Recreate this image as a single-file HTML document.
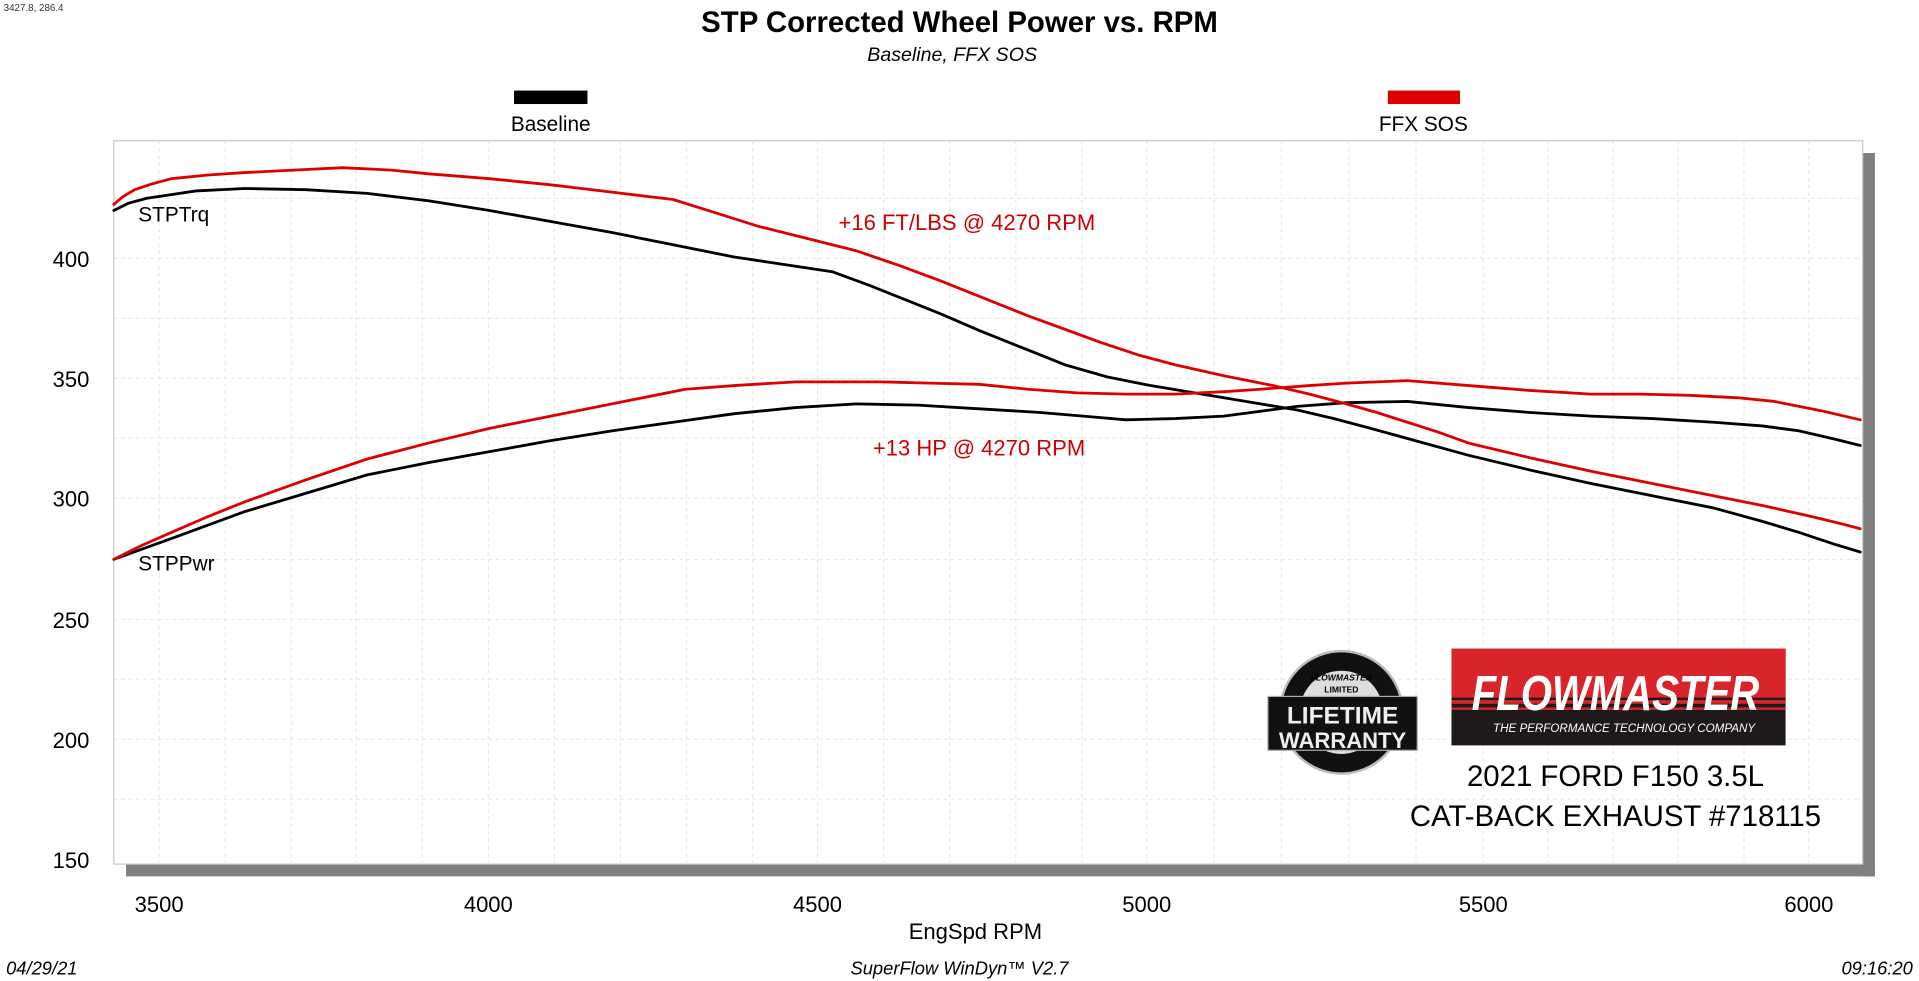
<!DOCTYPE html>
<html><head><meta charset="utf-8"><style>html,body{margin:0;padding:0;background:#fff;overflow:hidden}svg{display:block}text{font-family:"Liberation Sans",sans-serif}</style></head>
<body>
<svg width="1919" height="981" viewBox="0 0 1568 801.5" preserveAspectRatio="none" xmlns="http://www.w3.org/2000/svg">
<rect width="1568" height="802" fill="#fff"/>
<text x="3" y="9" font-size="8" fill="#333">3427.8, 286.4</text>
<text x="784" y="26" font-size="24" font-weight="bold" text-anchor="middle">STP Corrected Wheel Power vs. RPM</text>
<text x="778" y="50" font-size="16" font-style="italic" text-anchor="middle">Baseline, FFX SOS</text>
<rect x="420" y="74" width="60" height="11" fill="#000"/>
<text x="450" y="107" font-size="17" text-anchor="middle">Baseline</text>
<rect x="1134" y="74" width="59" height="11" fill="#d00"/>
<text x="1163" y="107" font-size="17" text-anchor="middle">FFX SOS</text>
<rect x="1522" y="125" width="10" height="591" fill="#808080"/>
<rect x="103" y="706" width="1429" height="10" fill="#808080"/>
<rect x="93" y="115" width="1429" height="591" fill="#fff" stroke="#c8c8c8" stroke-width="1"/>
<g stroke="#e2e2e2" stroke-width="0.8" stroke-dasharray="3,3">
<line x1="130" y1="115" x2="130" y2="706"/><line x1="184" y1="115" x2="184" y2="706"/><line x1="238" y1="115" x2="238" y2="706"/><line x1="291" y1="115" x2="291" y2="706"/><line x1="345" y1="115" x2="345" y2="706"/><line x1="399" y1="115" x2="399" y2="706"/><line x1="453" y1="115" x2="453" y2="706"/><line x1="507" y1="115" x2="507" y2="706"/><line x1="561" y1="115" x2="561" y2="706"/><line x1="615" y1="115" x2="615" y2="706"/><line x1="668" y1="115" x2="668" y2="706"/><line x1="722" y1="115" x2="722" y2="706"/><line x1="776" y1="115" x2="776" y2="706"/><line x1="830" y1="115" x2="830" y2="706"/><line x1="884" y1="115" x2="884" y2="706"/><line x1="937" y1="115" x2="937" y2="706"/><line x1="992" y1="115" x2="992" y2="706"/><line x1="1047" y1="115" x2="1047" y2="706"/><line x1="1102" y1="115" x2="1102" y2="706"/><line x1="1157" y1="115" x2="1157" y2="706"/><line x1="1212" y1="115" x2="1212" y2="706"/><line x1="1265" y1="115" x2="1265" y2="706"/><line x1="1318" y1="115" x2="1318" y2="706"/><line x1="1371" y1="115" x2="1371" y2="706"/><line x1="1425" y1="115" x2="1425" y2="706"/><line x1="1478" y1="115" x2="1478" y2="706"/>
<line x1="93" y1="162" x2="1522" y2="162"/><line x1="93" y1="211" x2="1522" y2="211"/><line x1="93" y1="260" x2="1522" y2="260"/><line x1="93" y1="309" x2="1522" y2="309"/><line x1="93" y1="358" x2="1522" y2="358"/><line x1="93" y1="407" x2="1522" y2="407"/><line x1="93" y1="457" x2="1522" y2="457"/><line x1="93" y1="506" x2="1522" y2="506"/><line x1="93" y1="555" x2="1522" y2="555"/><line x1="93" y1="604" x2="1522" y2="604"/><line x1="93" y1="653" x2="1522" y2="653"/>
</g>
<g font-size="18" text-anchor="end">
<text x="73" y="218">400</text><text x="73" y="316">350</text><text x="73" y="414">300</text><text x="73" y="513">250</text><text x="73" y="611">200</text><text x="73" y="709">150</text>
</g>
<g font-size="18" text-anchor="middle">
<text x="130" y="745">3500</text><text x="399" y="745">4000</text><text x="668" y="745">4500</text><text x="937" y="745">5000</text><text x="1212" y="745">5500</text><text x="1478" y="745">6000</text>
</g>
<text x="797" y="767" font-size="18" text-anchor="middle">EngSpd  RPM</text>
<g fill="none" stroke-width="2.3" stroke-linejoin="round" stroke-linecap="round">
<polyline stroke="#000" points="93,172 105,166 120,162 140,159 160,156 200,154 250,155 300,158 350,164 400,172 450,181 500,190 550,200 600,210 640,216 680,222 710,233 740,245 770,257 800,270 835,284 870,298 905,308 940,315 970,320 1000,325 1030,330 1060,335 1090,342 1120,350 1160,361 1200,372 1250,384 1300,395 1350,405 1400,415 1440,426 1470,435 1500,445 1520,451"/>
<polyline stroke="#000" points="93,457 115,449 140,440 170,429 200,418 250,403 300,388 350,378 400,369 450,360 500,352 550,345 600,338 650,333 700,330 750,331 800,334 850,337 885,340 920,343 960,342 1000,340 1030,336 1060,332 1100,329 1150,328 1200,333 1250,337 1300,340 1350,342 1400,345 1440,348 1470,352 1500,359 1520,364"/>
<polyline stroke="#d00" points="93,167 100,161 110,155 125,150 140,146 170,143 200,141 240,139 280,137 320,139 350,142 400,146 450,151 500,157 550,163 585,174 620,185 660,195 700,205 735,217 770,230 805,244 840,258 870,269 900,280 930,290 960,298 1000,307 1040,315 1070,322 1100,330 1125,337 1150,345 1175,353 1200,362 1250,374 1300,385 1350,395 1400,405 1440,413 1480,422 1505,428 1520,432"/>
<polyline stroke="#d00" points="93,457 115,446 140,435 170,422 200,410 250,392 300,375 350,362 400,350 450,340 500,330 530,324 560,318 600,315 650,312 720,312 760,313 800,314 840,318 880,321 920,322 960,322 1000,320 1030,318 1070,315 1100,313 1150,311 1200,315 1250,319 1300,322 1340,322 1380,323 1420,325 1450,328 1490,336 1520,343"/>
</g>
<text x="113" y="181" font-size="17">STPTrq</text>
<text x="113" y="466" font-size="17">STPPwr</text>
<text x="790" y="188" font-size="18" fill="#c00" text-anchor="middle">+16 FT/LBS @ 4270 RPM</text>
<text x="800" y="372" font-size="18" fill="#c00" text-anchor="middle">+13 HP @ 4270 RPM</text>
<circle cx="1096" cy="582" r="50" fill="#111" stroke="#bbb" stroke-width="2"/>
<circle cx="1096" cy="582" r="34" fill="#ddd"/>
<text x="1096" y="556" font-size="7" fill="#000" text-anchor="middle" font-style="italic" font-weight="bold">FLOWMASTER</text>
<text x="1096" y="566" font-size="7" fill="#000" text-anchor="middle" font-weight="bold">LIMITED</text>
<rect x="1036" y="569" width="122" height="44" fill="#111" stroke="#aaa"/>
<text x="1097" y="591" font-size="20" font-weight="bold" fill="#eee" text-anchor="middle">LIFETIME</text>
<text x="1097" y="611" font-size="18" font-weight="bold" fill="#eee" text-anchor="middle">WARRANTY</text>
<rect x="1186" y="530" width="273" height="79" fill="#1e1a1a"/>
<rect x="1186" y="530" width="273" height="40" fill="#d9252a"/>
<rect x="1186" y="572" width="273" height="3" fill="#d9252a"/>
<rect x="1186" y="578" width="273" height="2" fill="#d9252a"/>
<text x="1320" y="580" font-size="40" font-weight="bold" font-style="italic" fill="#fff" text-anchor="middle" textLength="235" lengthAdjust="spacingAndGlyphs">FLOWMASTER</text>
<text x="1327" y="598" font-size="9.5" font-style="italic" fill="#fff" text-anchor="middle">THE PERFORMANCE TECHNOLOGY COMPANY</text>
<text x="1320" y="642" font-size="24" text-anchor="middle">2021 FORD F150 3.5L</text>
<text x="1320" y="675" font-size="24" text-anchor="middle">CAT-BACK EXHAUST #718115</text>
<text x="5" y="796" font-size="15" font-style="italic">04/29/21</text>
<text x="784" y="796" font-size="15" font-style="italic" text-anchor="middle">SuperFlow WinDyn™ V2.7</text>
<text x="1563" y="796" font-size="15" font-style="italic" text-anchor="end">09:16:20</text>
</svg>
</body></html>
